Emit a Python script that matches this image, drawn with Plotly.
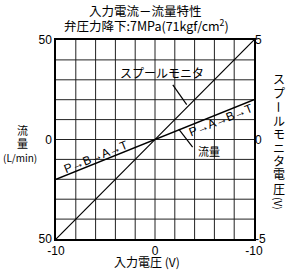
import plotly.graph_objects as go

input_voltage = [-10, 0, 10]
flow = [-20, 0, 20]
spool_monitor = [-5, 0, 5]

x_ticks = [-10, 0, 10]
x_ticktext = ["-10", "0", "-10"]
yl_ticks = [-50, 0, 50]
yl_ticktext = ["50", "0", "50"]
yr_ticks = [-5, 0, 5]
yr_ticktext = ["-5", "0", "5"]

JP = "Noto Sans CJK JP"
NUM = "Liberation Sans"

L, R, T, B = 56, 36, 40, 33
W, H = 290, 272
PW, PH = W - L - R, H - T - B


def px(x):
    return (x - L) / PW


def py(y):
    return (H - B - y) / PH


fig = go.Figure()
fig.add_trace(go.Scatter(x=input_voltage, y=flow, mode="lines",
                         line=dict(color="black", width=1.4), yaxis="y", showlegend=False))
fig.add_trace(go.Scatter(x=input_voltage, y=spool_monitor, mode="lines",
                         line=dict(color="black", width=1.2), yaxis="y2", showlegend=False))

fig.update_layout(
    width=W, height=H,
    margin=dict(l=L, r=R, t=T, b=B),
    paper_bgcolor="white", plot_bgcolor="white",
    xaxis=dict(range=[-10, 10], showgrid=False,
               zeroline=False, showline=True, linecolor="black", linewidth=1.5, mirror=True,
               tickmode="array", tickvals=x_ticks, ticktext=x_ticktext, ticks="",
               tickfont=dict(family=NUM, size=12, color="black")),
    yaxis=dict(range=[-50, 50], showgrid=False, zeroline=False,
               showline=True, linecolor="black", linewidth=1.5, mirror=True,
               tickmode="array", tickvals=yl_ticks, ticktext=yl_ticktext, ticks="",
               tickfont=dict(family=NUM, size=12, color="black")),
    yaxis2=dict(range=[-5, 5], overlaying="y", side="right", showgrid=False, zeroline=False,
                tickmode="array", tickvals=yr_ticks, ticktext=yr_ticktext, ticks="",
                tickfont=dict(family=NUM, size=12, color="black")),
)

# grid lines
for v in range(-40, 50, 10):
    fig.add_shape(type="line", xref="paper", x0=0, x1=1, yref="y", y0=v, y1=v,
                  line=dict(color="#222", width=1), layer="below")
for v in range(-8, 10, 2):
    fig.add_shape(type="line", yref="paper", y0=0, y1=1, xref="x", x0=v, x1=v,
                  line=dict(color="#222", width=1), layer="below")

ann = []


def add(text, x, y, size=12, family=JP, ref="paper", angle=0):
    ann.append(dict(text=text, xref=ref, yref=ref, x=x, y=y, showarrow=False,
                    xanchor="center", yanchor="middle", textangle=angle,
                    font=dict(family=family, size=size, color="black")))


add("入力電流－流量特性", px(145), py(11), 12.5)
add("弁圧力降下:7MPa(71kgf/cm<sup>2</sup>)", px(146), py(26), 12.5)
add("入力電圧 (V)", px(147), py(261), 12)
add("流", px(22), py(130), 11)
add("量", px(22), py(143), 11)
add("(L/min)", px(20), py(157), 10)

right_chars = ["ス", "プ", "ー", "ル", "モ", "ニ", "タ", "電", "圧", "(V)"]
right_y = [78, 92, 107, 120, 133, 147, 160, 173, 188, 203]
for ch, yy in zip(right_chars, right_y):
    rot = 90 if ch in ("ー", "(V)") else 0
    add(ch, px(279), py(yy), 12 if ch != "(V)" else 10, angle=rot)

add("スプールモニタ", 0.7, 33.9, 12, ref="x")
ann[-1]["yref"] = "y"
add("流量", 5.5, -6.0, 11, ref="x")
ann[-1]["yref"] = "y"
add("P→B→A→T", -6.0, -8.6, 12, family=NUM, ref="x", angle=-22)
ann[-1]["yref"] = "y"
add("P→A→B→T", 6.7, 9.8, 12, family=NUM, ref="x", angle=-22)
ann[-1]["yref"] = "y"
fig.update_layout(annotations=ann)

# leader lines
fig.add_shape(type="line", xref="x", yref="y", x0=1.8, y0=27.4, x1=3.2, y1=17.5,
              line=dict(color="black", width=1.2))
fig.add_shape(type="line", xref="x", yref="y", x0=2.4, y0=5.2, x1=3.8, y1=-3.8,
              line=dict(color="black", width=1.2))

fig.write_html("out.html")
